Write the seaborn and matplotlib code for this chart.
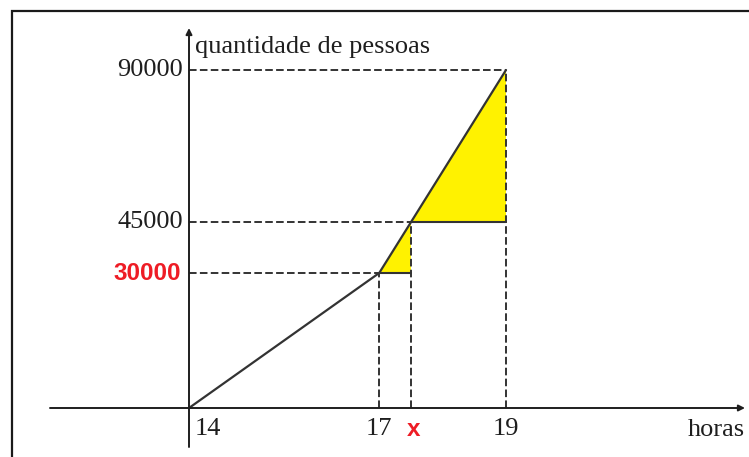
import numpy as np
import matplotlib
matplotlib.use("Agg")
import matplotlib.pyplot as plt
from matplotlib.patches import Rectangle
import matplotlib.transforms as mtransforms
import seaborn as sns

# Data: people count vs hour
horas = [14, 17, 19]
pessoas = [0, 30000, 90000]
hora_x = 17.5          # the unknown hour "x"
pessoas_x = 45000      # count reached at hour x
y_ticks = [90000, 45000]
y_tick_destaque = 30000
x_ticks = [14, 17, 19]

sns.set_theme(style="white")
plt.rcParams["font.family"] = ["Liberation Serif", "DejaVu Serif"]

INK = "#1e1e1e"
LINE = "#333333"
YELLOW = "#fff200"
RED = "#ee1c25"

fig = plt.figure(figsize=(7.49, 4.57), dpi=100)
ax = fig.add_axes([0, 0, 1, 1])
ax.axis("off")

# Schematic (not to scale) vertical axis: piecewise-linear spacing between ticks
_kv = np.array([0.0, 30000.0, 45000.0, 90000.0])
_kp = np.array([0.0, 135.0, 186.0, 338.0])
_slo = (_kp[1] - _kp[0]) / (_kv[1] - _kv[0])
_shi = (_kp[-1] - _kp[-2]) / (_kv[-1] - _kv[-2])


def fwd(v):
    v = np.asarray(v, dtype=float)
    out = np.interp(v, _kv, _kp)
    out = np.where(v < _kv[0], _kp[0] + (v - _kv[0]) * _slo, out)
    out = np.where(v > _kv[-1], _kp[-1] + (v - _kv[-1]) * _shi, out)
    return out


def inv(p):
    p = np.asarray(p, dtype=float)
    out = np.interp(p, _kp, _kv)
    out = np.where(p < _kp[0], _kv[0] + (p - _kp[0]) / _slo, out)
    out = np.where(p > _kp[-1], _kv[-1] + (p - _kp[-1]) / _shi, out)
    return out


ax.set_yscale("function", functions=(fwd, inv))

# Yellow triangles
ax.fill([horas[1], hora_x, hora_x], [pessoas[1], pessoas_x, pessoas[1]],
        color=YELLOW, lw=0, zorder=1)
ax.fill([hora_x, horas[2], horas[2]], [pessoas_x, pessoas[2], pessoas_x],
        color=YELLOW, lw=0, zorder=1)

dash = dict(color=LINE, lw=1.4, dashes=(3.9, 1.7), zorder=2)
pts = [(horas[1], pessoas[1]), (hora_x, pessoas_x), (horas[2], pessoas[2])]
for hx, py in pts:
    ax.plot([horas[0], hx], [py, py], **dash)
    ax.plot([hx, hx], [0, py], **dash)

# Solid bases of the triangles
ax.plot([horas[1], hora_x], [pessoas[1], pessoas[1]], color=LINE, lw=1.5, zorder=3)
ax.plot([hora_x, horas[2]], [pessoas_x, pessoas_x], color=LINE, lw=1.5, zorder=3)

# Main graph
sns.lineplot(x=horas, y=pessoas, ax=ax, color=LINE, lw=1.6, zorder=4,
             sort=False, estimator=None)

px_per_h = 63.4
ax.set_xlim(14 - 189 / px_per_h, 14 + 560 / px_per_h)
ax.set_ylim(float(inv(-49)), float(inv(408)))

# Axes with arrows
bx = mtransforms.blended_transform_factory(ax.transAxes, ax.transData)
by = mtransforms.blended_transform_factory(ax.transData, ax.transAxes)
arrow = dict(arrowstyle="-|>", color=INK, lw=1.4, mutation_scale=9,
             shrinkA=0, shrinkB=0)
ax.annotate("", xy=(745 / 749, 0), xycoords=bx, xytext=(50 / 749, 0),
            textcoords=bx, arrowprops=arrow, zorder=5)
ax.annotate("", xy=(horas[0], (457 - 28) / 457), xycoords=by,
            xytext=(horas[0], (457 - 447) / 457), textcoords=by,
            arrowprops=arrow, zorder=5)

# Tick labels
serif = dict(fontsize=19, color=INK, family=["Liberation Serif"])
bold_red = dict(fontsize=17.5, color=RED, weight="bold",
                family=["Liberation Sans", "DejaVu Sans"])

for v in y_ticks:
    ax.annotate(f"{v}", xy=(horas[0], v), xytext=(-6, 0),
                textcoords="offset pixels", ha="right", va="center", **serif)
ax.annotate(f"{y_tick_destaque}", xy=(horas[0], y_tick_destaque), xytext=(-8, 0),
            textcoords="offset pixels", ha="right", va="center", **bold_red)

for h in x_ticks:
    if h == horas[0]:
        ax.annotate(f"{h}", xy=(h, 0), xytext=(6, -21), textcoords="offset pixels",
                    ha="left", va="center", **serif)
    else:
        ax.annotate(f"{h}", xy=(h, 0), xytext=(0, -21), textcoords="offset pixels",
                    ha="center", va="center", **serif)
ax.annotate("x", xy=(hora_x, 0), xytext=(3, -22), textcoords="offset pixels",
            ha="center", va="center", **bold_red)

ax.annotate("quantidade de pessoas", xy=(horas[0], max(pessoas)), xytext=(6, 23),
            textcoords="offset pixels", ha="left", va="center", **serif)
ax.annotate("horas", xy=(745 / 749, 0), xycoords=bx, xytext=(0, -22),
            textcoords="offset pixels", ha="right", va="center", **serif)

# Frame around the figure (open to the right and bottom)
fig.patches.append(Rectangle((12 / 749, -0.1), 1.2, 1.1 - 11 / 457,
                             transform=fig.transFigure, fill=False,
                             ec="#1a1a1a", lw=1.6, zorder=10))

fig.savefig("out.png", dpi=100)
